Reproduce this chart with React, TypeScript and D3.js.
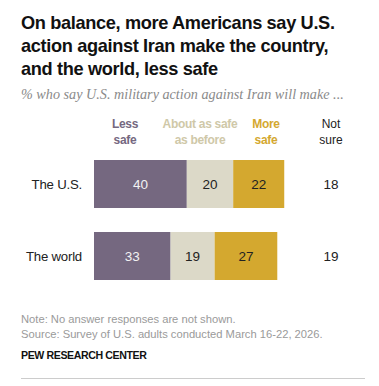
import React from "react";
import * as d3 from "d3";

const categories = ["The U.S.", "The world"];
const seriesNames = ["Less safe", "About as safe as before", "More safe"];
const lessSafe = [40, 33];
const aboutSame = [20, 19];
const moreSafe = [22, 27];
const notSure = [18, 19];

const titleLines = [
  "On balance, more Americans say U.S.",
  "action against Iran make the country,",
  "and the world, less safe",
];
const subtitle = "% who say U.S. military action against Iran will make ...";
const headerLines = [["Less", "safe"], ["About as safe", "as before"], ["More", "safe"], ["Not", "sure"]];
const noteLines = [
  "Note: No answer responses are not shown.",
  "Source: Survey of U.S. adults conducted March 16-22, 2026.",
];
const credit = "PEW RESEARCH CENTER";

const colors = ["#756880", "#dcd9c8", "#d4a82f"];
const headerColors = ["#756880", "#cfc8a8", "#d4a82f", "#222"];
const textColors = ["#f2f2f2", "#222", "#222"];

export default function App() {
  const W = 379, H = 386;
  const font = "'Liberation Sans', Arial, sans-serif";
  const x = d3.scaleLinear().domain([0, 100]).range([94, 94 + 232]);
  const y = d3.scaleBand().domain(categories).range([160, 280]).paddingInner(1 / 3).paddingOuter(0);
  const series = [lessSafe, aboutSame, moreSafe];
  const stacked = categories.map((c, i) => {
    let acc = 0;
    return series.map((s, k) => {
      const x0 = acc;
      acc += s[i];
      return { k, x0, x1: acc, v: s[i] };
    });
  });
  const notSureX = 331;
  const headerX = [125, 200, 266, notSureX];
  return (
    <svg width={W} height={H} style={{ position: "absolute", left: 0, top: 0, background: "#fff" }} fontFamily={font}>
      {titleLines.map((t, i) => (
        <text key={i} x={21} y={29 + i * 23} fontSize={18.2} fontWeight="bold" fill="#111" letterSpacing={-0.35}>{t}</text>
      ))}
      <text x={21} y={99} fontSize={14.2} fontStyle="italic" fill="#8a8a8a" fontFamily="'Liberation Serif', 'Times New Roman', serif">{subtitle}</text>
      {headerLines.map((lines, j) => (
        <text key={j} x={headerX[j]} textAnchor="middle" fontSize={12} fontWeight={j < 3 ? "bold" : "normal"} fill={headerColors[j]} letterSpacing={j < 3 ? -0.3 : 0}>
          {lines.map((l, li) => (
            <tspan key={li} x={headerX[j]} y={128 + li * 16}>{l}</tspan>
          ))}
        </text>
      ))}
      {categories.map((c, i) => {
        const by = y(c)!;
        const bh = y.bandwidth();
        return (
          <g key={c}>
            <text x={82} y={by + bh / 2 + 5} textAnchor="end" fontSize={13.2} fill="#222" letterSpacing={-0.2}>{c}</text>
            {stacked[i].map((seg) => (
              <g key={seg.k}>
                <rect x={x(seg.x0)} y={by} width={x(seg.x1) - x(seg.x0)} height={bh} fill={colors[seg.k]} />
                <text x={(x(seg.x0) + x(seg.x1)) / 2} y={by + bh / 2 + 5} textAnchor="middle" fontSize={13.5} fill={textColors[seg.k]}>{seg.v}</text>
              </g>
            ))}
            <text x={notSureX} y={by + bh / 2 + 5} textAnchor="middle" fontSize={13.5} fill="#222">{notSure[i]}</text>
          </g>
        );
      })}
      {noteLines.map((t, i) => (
        <text key={i} x={21} y={323 + i * 15} fontSize={11.2} fill="#9a9a9a">{t}</text>
      ))}
      <text x={21} y={359} fontSize={10.6} fontWeight="bold" fill="#111" letterSpacing={-0.4}>{credit}</text>
      <line x1={21} x2={365} y1={378.5} y2={378.5} stroke="#ccc" strokeWidth={1} />
    </svg>
  );
}
